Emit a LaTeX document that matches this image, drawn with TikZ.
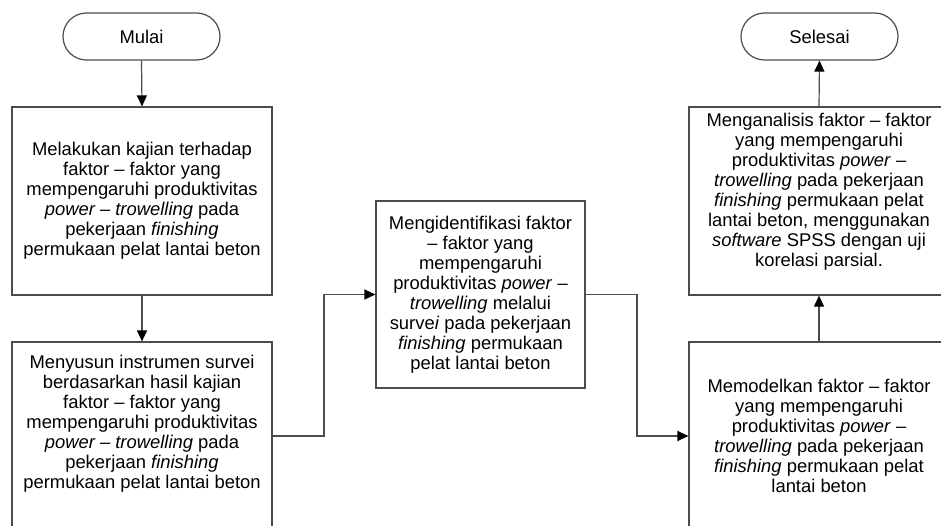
\documentclass[tikz,border=0pt]{standalone}
\usepackage{fontspec}
\setmainfont{Liberation Sans}
\usetikzlibrary{arrows.meta}
\tikzset{
  ln/.style={draw=black!70, line width=1.2pt},
  arr/.style={ln, -{Triangle[length=11pt,width=10pt,color=black]}},
  term/.style={ln, rectangle, rounded corners=23.5pt, minimum width=157pt, minimum height=47pt, inner sep=0pt, font=\fontsize{18.4pt}{20pt}\selectfont},
  procbox/.style={ln, rectangle, inner sep=0pt, minimum height=188pt, font=\fontsize{18.4pt}{20pt}\selectfont, align=center},
  boxtxt/.style={inner sep=0pt, font=\fontsize{18.4pt}{20pt}\selectfont, align=center}
}
\begin{document}
\begin{tikzpicture}[x=1pt,y=-1pt]
\useasboundingbox (0,0) rectangle (941,526);
\fill[white] (0,0) rectangle (941,526);
% terminators
\node[term] (mulai) at (141.5,36.5) {Mulai};
\node[term] (selesai) at (819.5,36.5) {Selesai};
% process boxes
\node[procbox, minimum width=260pt] (b1) at (142,201) {Melakukan kajian terhadap\\ faktor – faktor yang\\ mempengaruhi produktivitas\\ \textit{power – trowelling} pada\\ pekerjaan \textit{finishing}\\ permukaan pelat lantai beton};
\node[procbox, minimum width=260pt] (b2) at (142,436) {};
\node[boxtxt] (b2t) at (142,423.5) {Menyusun instrumen survei\\ berdasarkan hasil kajian\\ faktor – faktor yang\\ mempengaruhi produktivitas\\ \textit{power – trowelling} pada\\ pekerjaan \textit{finishing}\\ permukaan pelat lantai beton};
\node[procbox, minimum width=209pt, minimum height=187pt] (b3) at (480.5,294.5) {Mengidentifikasi faktor\\ – faktor yang\\ mempengaruhi\\ produktivitas \textit{power} –\\ \textit{trowelling} melalui\\ surve\textit{i} pada pekerjaan\\ \textit{finishing} permukaan\\ pelat lantai beton};
\node[procbox, minimum width=260pt] (b4) at (819,201) {};
\node[boxtxt] (b4t) at (819,192) {Menganalisis faktor – faktor\\ yang mempengaruhi\\ produktivitas \textit{power} –\\ \textit{trowelling} pada pekerjaan\\ \textit{finishing} permukaan pelat\\ lantai beton, menggunakan\\ \textit{software} SPSS dengan uji\\ korelasi parsial.};
\node[procbox, minimum width=260pt] (b5) at (819,436) {Memodelkan faktor – faktor\\ yang mempengaruhi\\ produktivitas \textit{power} –\\ \textit{trowelling} pada pekerjaan\\ \textit{finishing} permukaan pelat\\ lantai beton};
% junction columns
\coordinate (j1) at (324,0);
\coordinate (j2) at (637,0);
% connectors
\draw[arr] (mulai.south) -- (b1.north);
\draw[arr] (b1.south) -- (b2.north);
\draw[arr] (b2.east) -| (j1 |- b3.west) -- (b3.west);
\draw[arr] (b3.east) -| (j2 |- b5.west) -- (b5.west);
\draw[arr] (b5.north) -- (b4.south);
\draw[arr] (b4.north) -- (selesai.south);
\end{tikzpicture}
\end{document}
